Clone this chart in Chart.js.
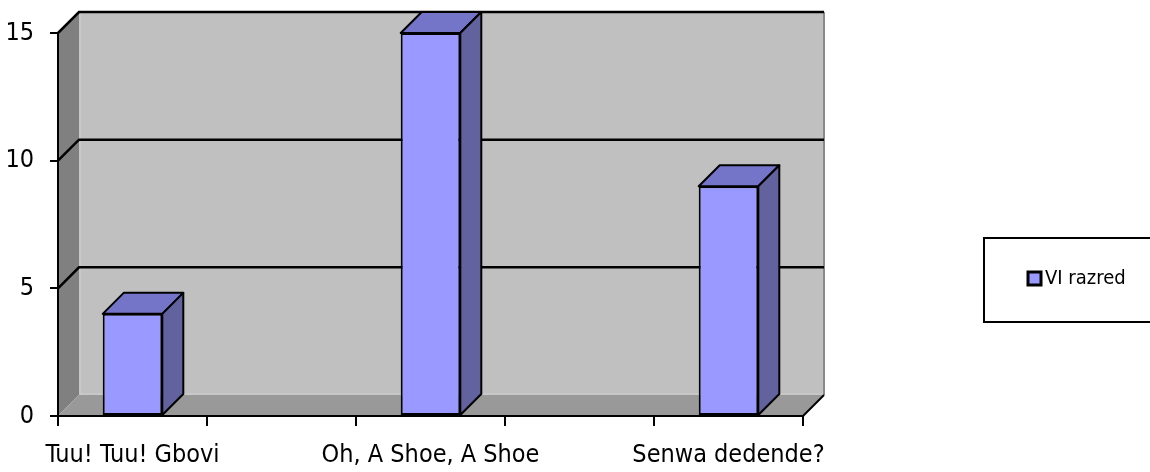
<!DOCTYPE html>
<html>
<head>
<meta charset="utf-8">
<script src="https://cdn.jsdelivr.net/npm/chart.js@4/dist/chart.umd.min.js"></script>
<style>
    body { margin: 0; background: #fff; overflow: hidden; }
</style>
</head>
<body>
<canvas id="myChart" width="1150" height="472"></canvas>
<script>
// date
const categories = ['Tuu! Tuu! Gbovi', '', 'Oh, A Shoe, A Shoe', '', 'Senwa dedende?'];
const values = [4, null, 15, null, 9];
const yTicks = [0, 5, 10, 15];
const seriesName = 'VI razred';

// adancimea efectului 3D
const DX = 21;
const DY = -21;

const FONT = "'Liberation Sans Narrow', 'DejaVu Sans Condensed', 'Liberation Sans', sans-serif";

function poly(ctx, pts, fill, stroke, lw) {
    ctx.beginPath();
    ctx.moveTo(pts[0][0], pts[0][1]);
    for (let i = 1; i < pts.length; i++) ctx.lineTo(pts[i][0], pts[i][1]);
    ctx.closePath();
    if (fill) { ctx.fillStyle = fill; ctx.fill(); }
    if (stroke) { ctx.strokeStyle = stroke; ctx.lineWidth = lw || 1; ctx.stroke(); }
}

// peretii, podeaua si liniile de grila
const walls3d = {
    id: 'walls3d',
    beforeDraw(chart) {
        const { ctx, chartArea: a, scales: { y } } = chart;
        ctx.save();
        // peretele din spate
        poly(ctx, [[a.left + DX, a.top + DY], [a.right + DX, a.top + DY], [a.right + DX, a.bottom + DY], [a.left + DX, a.bottom + DY]], '#c0c0c0');
        // peretele din stanga
        poly(ctx, [[a.left, a.top], [a.left + DX, a.top + DY], [a.left + DX, a.bottom + DY], [a.left, a.bottom]], '#808080');
        // podeaua
        poly(ctx, [[a.left, a.bottom], [a.right, a.bottom], [a.right + DX, a.bottom + DY], [a.left + DX, a.bottom + DY]], '#999999');

        // dunga deschisa la baza peretelui si in colt
        ctx.strokeStyle = '#cfcfcf';
        ctx.lineWidth = 1;
        ctx.beginPath();
        ctx.moveTo(a.left + DX + 1, a.top + DY + 2);
        ctx.lineTo(a.left + DX + 1, a.bottom + DY - 1);
        ctx.lineTo(a.right + DX - 1, a.bottom + DY - 1);
        ctx.stroke();

        // margine dreapta a peretelui
        ctx.strokeStyle = '#8a8a8a';
        ctx.lineWidth = 2;
        ctx.beginPath();
        ctx.moveTo(a.right + DX, a.top + DY);
        ctx.lineTo(a.right + DX, a.bottom + DY);
        ctx.stroke();

        // liniile de grila
        ctx.strokeStyle = '#000';
        ctx.lineWidth = 2.5;
        yTicks.forEach(v => {
            if (v === 0) return;
            const py = y.getPixelForValue(v);
            ctx.beginPath();
            ctx.moveTo(a.left, py);
            ctx.lineTo(a.left + DX, py + DY);
            ctx.lineTo(a.right + DX, py + DY);
            ctx.stroke();
        });

        // muchia dreapta a podelei
        ctx.lineWidth = 2;
        ctx.beginPath();
        ctx.moveTo(a.right, a.bottom);
        ctx.lineTo(a.right + DX, a.bottom + DY);
        ctx.stroke();
        ctx.restore();
    }
};

// fetele de sus si laterale ale coloanelor + legenda
const bars3d = {
    id: 'bars3d',
    afterDatasetsDraw(chart) {
        const ctx = chart.ctx;
        const meta = chart.getDatasetMeta(0);
        ctx.save();
        ctx.lineJoin = 'round';
        meta.data.forEach((bar, i) => {
            if (values[i] === null) return;
            const { x, y, base, width } = bar.getProps(['x', 'y', 'base', 'width'], true);
            const x1 = x - width / 2;
            const x2 = x + width / 2;
            poly(ctx, [[x1, y], [x2, y], [x2 + DX, y + DY], [x1 + DX, y + DY]], '#7474c8', '#000', 2);
            poly(ctx, [[x2, y], [x2 + DX, y + DY], [x2 + DX, base + DY], [x2, base]], '#62629f', '#000', 2);
        });
        ctx.restore();
    },
    afterDraw(chart) {
        const ctx = chart.ctx;
        const ds = chart.data.datasets[0];
        ctx.save();
        // chenarul legendei
        ctx.strokeStyle = '#000';
        ctx.lineWidth = 2;
        ctx.strokeRect(984, 238, 200, 84);
        // marcajul
        ctx.fillStyle = ds.backgroundColor;
        ctx.fillRect(1028, 272, 13, 13);
        ctx.lineWidth = 3;
        ctx.strokeRect(1028, 272, 13, 13);
        ctx.fillStyle = '#000';
        ctx.font = '20px ' + FONT;
        ctx.textBaseline = 'middle';
        ctx.fillText(ds.label, 1045, 279);
        ctx.restore();
    }
};

const config = {
    type: 'bar',
    data: {
        labels: categories,
        datasets: [{
            label: seriesName,
            data: values,
            backgroundColor: '#9999ff',
            borderColor: '#000',
            borderWidth: 2,
            borderSkipped: false,
            categoryPercentage: 0.4,
            barPercentage: 1.0
        }]
    },
    options: {
        responsive: false,
        animation: false,
        layout: { padding: { top: 33, right: 347, bottom: 0, left: 0 } },
        plugins: {
            legend: { display: false },
            tooltip: { enabled: false }
        },
        scales: {
            x: {
                grid: { drawOnChartArea: false, drawTicks: true, tickLength: 10, color: '#000', lineWidth: 2 },
                border: { display: true, color: '#000', width: 2 },
                ticks: { color: '#000', font: { family: FONT, size: 25 }, padding: 14, autoSkip: false, maxRotation: 0 },
                afterFit(scale) { scale.height = 56; }
            },
            y: {
                min: 0,
                max: 15,
                afterBuildTicks(scale) { scale.ticks = yTicks.map(v => ({ value: v })); },
                grid: { drawOnChartArea: false, drawTicks: true, tickLength: 8, color: '#000', lineWidth: 2 },
                border: { display: true, color: '#000', width: 2 },
                ticks: { color: '#000', font: { family: FONT, size: 25 }, padding: 16 },
                afterFit(scale) { scale.width = 58; }
            }
        }
    },
    plugins: [walls3d, bars3d]
};

const myChart = new Chart(document.getElementById('myChart'), config);
</script>
</body>
</html>
